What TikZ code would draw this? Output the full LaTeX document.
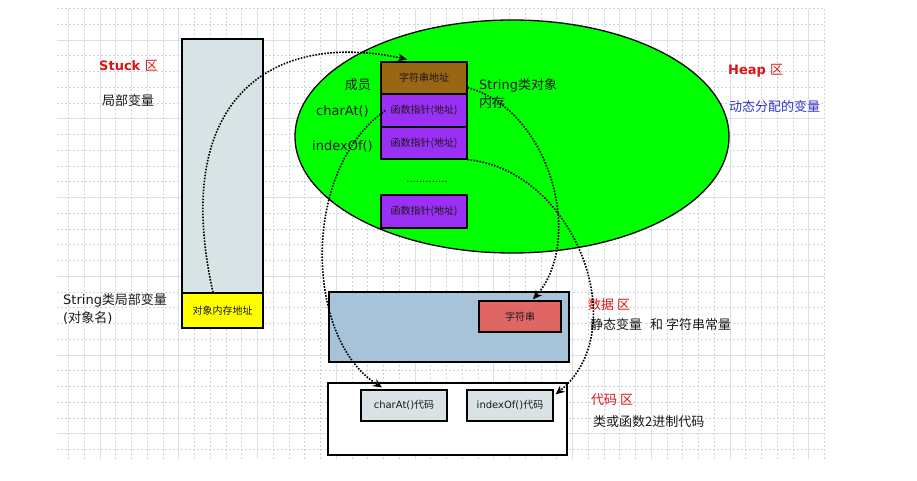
\documentclass[tikz,border=0pt]{standalone}
\usepackage{fontspec}
\setmainfont{DejaVu Sans}
\newfontfamily\cjk{Noto Sans CJK SC}
\usetikzlibrary{arrows.meta,shapes.geometric,calc}
\definecolor{gridmaj}{RGB}{214,226,232}
\definecolor{gridmin}{RGB}{205,212,218}
\definecolor{stackc}{RGB}{216,227,230}
\definecolor{yel}{RGB}{255,255,0}
\definecolor{heapc}{RGB}{0,255,0}
\definecolor{brownc}{RGB}{153,102,20}
\definecolor{purp}{RGB}{155,48,245}
\definecolor{datac}{RGB}{167,195,217}
\definecolor{strc}{RGB}{224,102,102}
\definecolor{codec}{RGB}{217,227,230}
\definecolor{redt}{RGB}{220,20,20}
\definecolor{bluet}{RGB}{50,50,200}
\definecolor{txt}{RGB}{25,25,25}
\begin{document}
\begin{tikzpicture}[x=1pt,y=-1pt,
  minorg/.style={gridmin,line width=0.6pt,dash pattern=on 2pt off 2pt},
  majorg/.style={gridmaj,line width=0.9pt},
  box/.style={draw=black,line width=1.3pt,inner sep=0pt,text=txt,font=\fontsize{10}{12}\selectfont\cjk},
  lab/.style={inner sep=0pt,anchor=west,text=txt,font=\fontsize{13}{17.5}\selectfont},
  redlab/.style={inner sep=0pt,anchor=west,text=redt,font=\fontsize{13}{16}\selectfont},
  conn/.style={line width=1.6pt,dash pattern=on 1.6pt off 1.4pt,-{Stealth[length=9pt,width=8pt]}}
]
\useasboundingbox (0,0) rectangle (917,481);
\fill[white] (0,0) rectangle (917,481);
% grid
\foreach \i in {-2,...,46} \draw[minorg] ({100+15.75*\i},9) -- ({100+15.75*\i},459);
\foreach \j in {-2,...,26} \draw[minorg] (57,{40+15.75*\j}) -- (825,{40+15.75*\j});
\foreach \i in {0,...,9} \draw[majorg] ({100+78.75*\i},9) -- ({100+78.75*\i},459);
\foreach \j in {0,...,5} \draw[majorg] (57,{40+78.75*\j}) -- (825,{40+78.75*\j});

% stack
\node[box,fill=stackc,minimum width=81pt,minimum height=289pt] (stack) at (222.5,183.5) {};
\node[box,fill=yel,minimum width=81pt,minimum height=35pt] (yellow) at (222.5,310.5) {对象内存地址};
\node[redlab] (stuckt) at (99,66) {\textbf{Stuck} {\cjk 区}};
\node[lab] (stuckd) at (102,101) {\cjk 局部变量};
\node[lab,align=left] (strvar) at (63,309) {String{\cjk 类局部变量}\\({\cjk 对象名})};

% heap
\node[ellipse,draw=black,line width=1.3pt,fill=heapc,minimum width=434pt,minimum height=233pt,inner sep=0pt] (heap) at (512,136.5) {};
\node[box,fill=brownc,minimum width=86pt,minimum height=32pt] (brown) at (424,78) {字符串地址};
\node[box,fill=purp,minimum width=86pt,minimum height=33pt] (p1) at (424,110.5) {函数指针(地址)};
\node[box,fill=purp,minimum width=86pt,minimum height=32pt] (p2) at (424,143) {函数指针(地址)};
\node[box,fill=purp,minimum width=86pt,minimum height=33pt] (p3) at (424,211.5) {函数指针(地址)};
\node[inner sep=0pt,text=txt,font=\fontsize{10}{12}\selectfont] (dots) at (427,182) {.............};
\node[lab,anchor=east] (member) at (371,85) {\cjk 成员};
\node[lab] (charat) at (316,111) {charAt()};
\node[lab] (indexof) at (312,146) {indexOf()};
\node[lab,align=left] (strobj) at (479,93.5) {String{\cjk 类对象}\\{\cjk 内存}};
\node[redlab] (heapt) at (728,71) {\textbf{Heap} {\cjk 区}};
\node[lab,text=bluet] (heapd) at (729,107) {\cjk 动态分配的变量};

% data
\node[box,fill=datac,minimum width=240pt,minimum height=70pt] (data) at (449,327) {};
\node[box,fill=strc,minimum width=82pt,minimum height=31pt] (str) at (520,316.5) {字符串};
\node[redlab] (datat) at (588,305) {\cjk 数据 区};
\node[lab] (datad) at (590,325) {\cjk 静态变量\hspace{8pt}和 字符串常量};

% code
\node[box,fill=white,minimum width=239pt,minimum height=72pt] (code) at (447.5,419) {};
\node[box,fill=codec,minimum width=86pt,minimum height=31pt] (cac) at (404,405.5) {{\fontspec{DejaVu Sans}charAt()}代码};
\node[box,fill=codec,minimum width=86pt,minimum height=31pt] (ioc) at (510,405.5) {{\fontspec{DejaVu Sans}indexOf()}代码};
\node[redlab] (codet) at (591,400) {\cjk 代码 区};
\node[lab] (coded) at (593,422) {\cjk 类或函数2进制代码};

% connectors
\draw[conn] ([xshift=-9.5pt]yellow.north) .. controls (170,100) and (270,30) .. ([xshift=-17pt,yshift=2pt]brown.north);
\draw[conn] ([xshift=5pt]p1.west) .. controls (300,170) and (305,340) .. ([xshift=-22pt,yshift=2pt]cac.north);
\draw[conn] ([yshift=7pt]brown.south east) .. controls (550,110) and (585,240) .. ([xshift=13pt,yshift=1pt]str.north);
\draw[conn] (p2.south east) .. controls (575,170) and (635,330) .. ([xshift=2pt,yshift=-5pt]ioc.north east);
\end{tikzpicture}
\end{document}
